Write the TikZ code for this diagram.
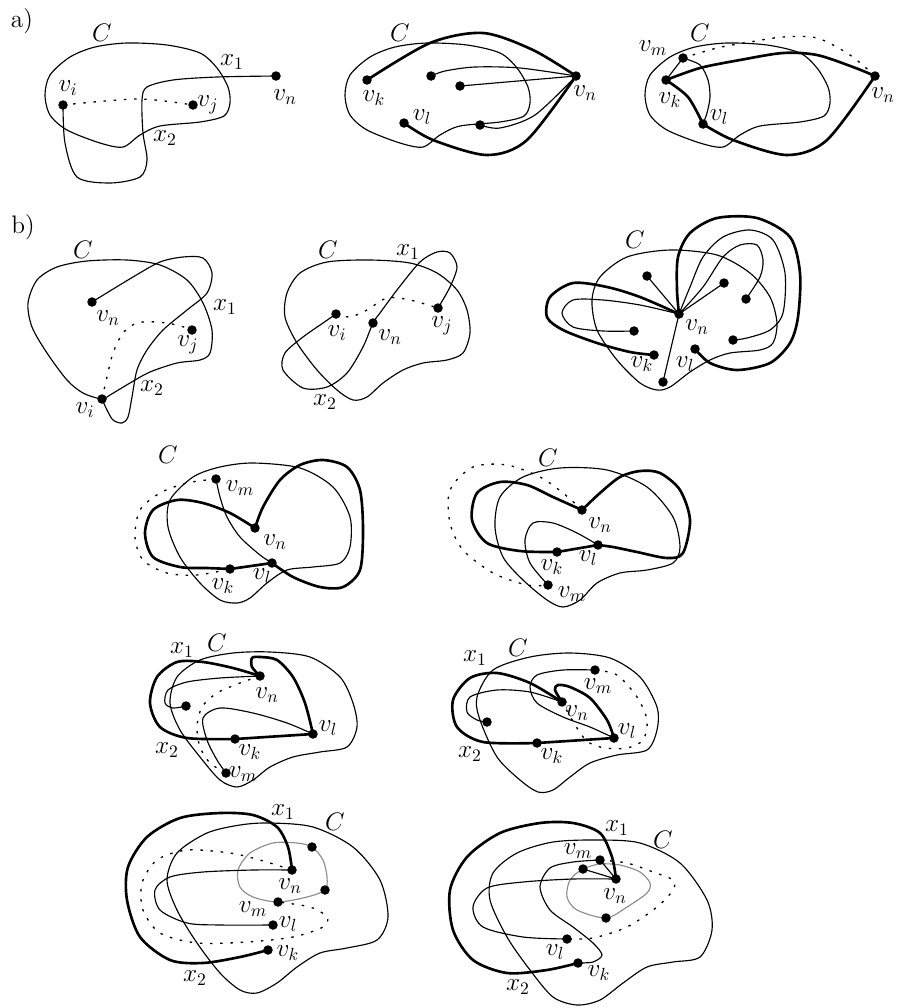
\documentclass[tikz,border=0pt]{standalone}
\usepackage{amsmath,amssymb}
\usepackage{xcolor,tikz}
\usetikzlibrary{positioning}
\definecolor{loopgrey}{HTML}{8C8C8C}
\tikzset{dot/.style={circle,fill=black,inner sep=0pt,minimum size=0.19cm},
  lab/.style={inner sep=0pt,font=\Large},
  edge/.style={line width=0.65pt},
  heavy/.style={line width=1.5pt},
  dots/.style={line width=0.75pt,dash pattern=on 1.4pt off 4.4pt},
  greyloop/.style={line width=0.65pt,draw=loopgrey},
  curveC/.style={line width=0.65pt}}

\begin{document}
\begin{tikzpicture}[x=0.02cm,y=-0.02cm]
\useasboundingbox (0,0) rectangle (899,1008);
\coordinate (a1vi) at (63,105); \coordinate (a1vj) at (193,105); \coordinate (a1vn) at (276,76);
\coordinate (a2vn) at (576,76); \coordinate (a2vk) at (367,80); \coordinate (a2vl) at (404,123);
\coordinate (a2p) at (431,76); \coordinate (a2q) at (460,86); \coordinate (a2r) at (480,125);
\coordinate (a3vn) at (875,76); \coordinate (a3vk) at (666,80); \coordinate (a3vm) at (683,58); \coordinate (a3vl) at (703,124);
\coordinate (b1vn) at (92,302); \coordinate (b1vj) at (192,330); \coordinate (b1vi) at (102,399);
\coordinate (b2vi) at (336,314); \coordinate (b2vn) at (373,323); \coordinate (b2vj) at (438,308);
\coordinate (b3vn) at (679,314); \coordinate (b3vk) at (654,355); \coordinate (b3vl) at (695,349);
\coordinate (b3a) at (647,276); \coordinate (b3b) at (724,283); \coordinate (b3c) at (746,299);
\coordinate (b3d) at (634,331); \coordinate (b3e) at (733,340); \coordinate (b3f) at (663,382);
\coordinate (b4vm) at (216,479); \coordinate (b4vn) at (255,528); \coordinate (b4vk) at (230,569); \coordinate (b4vl) at (272,563);
\coordinate (b5vn) at (582,510); \coordinate (b5vk) at (557,552); \coordinate (b5vl) at (598,545); \coordinate (b5vm) at (548,585);
\coordinate (b6vn) at (260,676); \coordinate (b6vl) at (313,734); \coordinate (b6vk) at (235,739);
\coordinate (b6vm) at (226,773); \coordinate (b6p) at (186,706);
\coordinate (b7vn) at (562,702); \coordinate (b7vm) at (595,670); \coordinate (b7vl) at (614,738);
\coordinate (b7vk) at (537,743); \coordinate (b7p) at (487,722);
\coordinate (b8vn) at (292,870); \coordinate (b8a) at (312,847); \coordinate (b8b) at (325,890);
\coordinate (b8vm) at (278,902); \coordinate (b8vl) at (273,925); \coordinate (b8vk) at (268,950);
\coordinate (b9vn) at (616,879); \coordinate (b9vm) at (600,860); \coordinate (b9q) at (583,869);
\coordinate (b9r) at (606,918); \coordinate (b9vl) at (567,939); \coordinate (b9vk) at (578,963);

\node[lab] (tagA) at (22,21) {a)};
\node[lab] (tagB) at (23,227) {b)};

\foreach \dx in {0,300,600}{
  \draw[curveC,shift={(\dx,0)}] plot[smooth cycle] coordinates {(127,43) (167,45) (200,53) (217,68)
    (228,87) (230,103) (224,116) (200,122) (160,126) (140,135) (123,147) (100,143) (67,130)
    (50,115) (45,95) (50,75) (70,57) (95,47)};
}
\draw[edge] plot[smooth] coordinates {(a1vn) (217,77) (173,80) (147,87) (142,100) (143,133) (147,160)
  (140,177) (110,183) (77,177) (65,143) (a1vi)};
\draw[dots] plot[smooth] coordinates {(a1vi) (138,99) (a1vj)};
\node[lab] (a1tC) at (102,33) {$C$};
\node[lab] (a1ti) at (68,88) {$v_i$};
\node[lab] (a1tj) at (208,105) {$v_j$};
\node[lab] (a1tn) at (285,97) {$v_n$};
\node[lab] (a1t1) at (232,62) {$x_1$};
\node[lab] (a1t2) at (165,138) {$x_2$};

\draw[heavy] plot[smooth] coordinates {(a2vk) (430,43) (483,33) (533,50) (a2vn)};
\draw[heavy] plot[smooth] coordinates {(a2vl) (433,140) (487,155) (527,140) (a2vn)};
\draw[edge] plot[smooth] coordinates {(a2p) (445,71) (475,67) (520,68) (a2vn)};
\draw[edge] (a2q) -- (a2vn);
\draw[edge] plot[smooth] coordinates {(a2r) (500,128) (535,115) (a2vn)};
\node[lab] (a2tC) at (400,33) {$C$};
\node[lab] (a2tk) at (374,98) {$v_k$};
\node[lab] (a2tl) at (422,117) {$v_l$};
\node[lab] (a2tn) at (585,93) {$v_n$};

\draw[heavy] plot[smooth] coordinates {(a3vk) (700,68) (740,60) (783,53) (817,55) (853,67) (a3vn)};
\draw[heavy] plot[smooth] coordinates {(a3vk) (688,97) (a3vl)};
\draw[heavy] plot[smooth] coordinates {(a3vl) (733,140) (787,155) (827,140) (a3vn)};
\draw[edge] (a3vk) -- (a3vm);
\draw[edge] plot[smooth] coordinates {(a3vm) (700,65) (708,80) (710,97) (707,113) (a3vl)};
\draw[dots] plot[smooth] coordinates {(a3vm) (717,48) (750,42) (783,37) (817,38) (850,55) (a3vn)};
\node[lab] (a3tC) at (700,33) {$C$};
\node[lab] (a3tm) at (653,48) {$v_m$};
\node[lab] (a3tk) at (670,100) {$v_k$};
\node[lab] (a3tl) at (719,117) {$v_l$};
\node[lab] (a3tn) at (883,95) {$v_n$};

\draw[curveC] plot[smooth cycle] coordinates {(127,260) (160,265) (187,280) (203,303) (212,330) (210,353)
  (200,360) (177,363) (150,372) (130,383) (110,395) (102,399) (83,393) (67,380) (47,353) (32,327)
  (28,303) (37,280) (57,267) (87,261)};
\draw[edge] plot[smooth] coordinates {(b1vn) (133,277) (160,262) (183,257) (203,258) (212,273) (207,293)
  (187,310) (163,330) (147,350) (137,370) (132,397) (128,417) (122,423) (113,420) (107,410) (b1vi)};
\draw[dots] plot[smooth] coordinates {(b1vi) (107,377) (113,353) (123,333) (137,323) (157,322) (177,325) (b1vj)};
\node[lab] (b1tC) at (83,250) {$C$};
\node[lab] (b1tn) at (108,318) {$v_n$};
\node[lab] (b1tj) at (188,345) {$v_j$};
\node[lab] (b1ti) at (85,410) {$v_i$};
\node[lab] (b1t1) at (225,307) {$x_1$};
\node[lab] (b1t2) at (152,388) {$x_2$};

\draw[curveC] plot[smooth cycle] coordinates {(370,260) (410,263) (437,273) (457,290) (467,310) (470,333)
  (463,353) (447,360) (423,363) (403,370) (383,383) (367,397) (353,400) (337,390) (317,370) (297,343)
  (285,317) (287,293) (300,273) (327,262)};
\draw[edge] plot[smooth] coordinates {(b2vj) (450,287) (457,267) (450,253) (437,252) (420,262) (397,290)
  (380,313) (b2vn) (363,347) (347,373) (327,387) (303,388) (283,370) (285,353) (303,337) (323,323) (b2vi)};
\draw[dots] plot[smooth] coordinates {(b2vi) (350,317) (367,310) (387,298) (410,300) (b2vj)};
\node[lab] (b2tC) at (328,250) {$C$};
\node[lab] (b2t1) at (408,252) {$x_1$};
\node[lab] (b2ti) at (337,333) {$v_i$};
\node[lab] (b2tn) at (390,337) {$v_n$};
\node[lab] (b2tj) at (442,326) {$v_j$};
\node[lab] (b2t2) at (325,402) {$x_2$};

\draw[curveC] plot[smooth cycle] coordinates {(670,250) (717,255) (750,273) (770,297) (777,323) (773,343)
  (760,350) (730,353) (710,360) (690,372) (670,387) (657,390) (640,383) (617,360) (597,330) (592,300)
  (600,277) (627,257)};
\draw[heavy] plot[smooth] coordinates {(b3vn) (677,290) (678,257) (690,233) (717,218) (757,218) (790,237)
  (800,273) (798,317) (790,343) (770,363) (737,370) (710,363) (b3vl)};
\draw[edge] plot[smooth] coordinates {(b3vn) (690,287) (703,257) (723,237) (750,230) (773,240) (785,273)
  (783,313) (770,330) (747,338) (b3e)};
\draw[edge] plot[smooth] coordinates {(b3vn) (703,287) (723,257) (740,245) (757,245) (763,260) (760,277) (b3c)};
\draw[heavy] plot[smooth] coordinates {(b3vn) (640,297) (607,287) (573,283) (550,297) (547,317) (563,330)
  (597,343) (630,352) (b3vk)};
\draw[edge] plot[smooth] coordinates {(b3vn) (640,305) (603,300) (573,300) (562,313) (573,327) (603,331) (b3d)};
\draw[edge] (b3vn) -- (b3a);
\draw[edge] (b3vn) -- (b3b);
\draw[edge] (b3vn) -- (b3f);
\node[lab] (b3tC) at (635,240) {$C$};
\node[lab] (b3tn) at (697,327) {$v_n$};
\node[lab] (b3tk) at (642,364) {$v_k$};
\node[lab] (b3tl) at (685,364) {$v_l$};

\draw[curveC] plot[smooth cycle] coordinates {(253,463) (300,468) (333,487) (350,517) (350,547) (340,563)
  (313,567) (287,570) (267,583) (250,598) (237,603) (220,600) (200,583) (180,557) (168,527) (170,500)
  (193,477) (220,467)};
\draw[heavy] plot[smooth] coordinates {(b4vn) (263,507) (280,480) (300,465) (323,460) (347,467) (360,490)
  (363,530) (360,570) (343,587) (320,587) (293,577) (b4vl)};
\draw[heavy] plot[smooth] coordinates {(b4vn) (230,513) (203,503) (177,500) (153,510) (145,533) (153,557)
  (180,567) (207,568) (b4vk)};
\draw[heavy] (b4vk) -- (b4vl);
\draw[edge] plot[smooth] coordinates {(b4vm) (220,497) (227,517) (240,537) (260,555) (b4vl)};
\draw[dots] plot[smooth] coordinates {(b4vm) (187,483) (160,493) (140,510) (135,537) (143,560) (167,573)
  (197,575) (b4vk)};
\node[lab] (b4tC) at (168,455) {$C$};
\node[lab] (b4tm) at (240,488) {$v_m$};
\node[lab] (b4tn) at (275,542) {$v_n$};
\node[lab] (b4tk) at (223,586) {$v_k$};
\node[lab] (b4tl) at (262,576) {$v_l$};

\draw[curveC] plot[smooth cycle] coordinates {(560,468) (607,470) (647,487) (673,517) (680,547) (673,563)
  (647,570) (620,573) (597,583) (580,600) (563,607) (547,600) (523,580) (503,557) (495,527) (500,497)
  (523,477)};
\draw[heavy] plot[smooth] coordinates {(b5vn) (600,493) (620,477) (640,471) (660,473) (680,490) (690,520)
  (683,553) (667,558) (637,552) (613,547) (b5vl)};
\draw[heavy] plot[smooth] coordinates {(b5vn) (553,497) (527,485) (500,482) (477,493) (472,520) (487,543)
  (520,551) (b5vk)};
\draw[heavy] (b5vk) -- (b5vl);
\draw[edge] plot[smooth] coordinates {(b5vl) (577,533) (553,523) (533,523) (525,540) (530,563) (b5vm)};
\draw[dots] plot[smooth] coordinates {(b5vn) (563,493) (540,477) (507,465) (473,467) (450,490) (450,523)
  (463,550) (493,573) (527,585) (b5vm)};
\node[lab] (b5tC) at (548,458) {$C$};
\node[lab] (b5tn) at (600,525) {$v_n$};
\node[lab] (b5tk) at (552,567) {$v_k$};
\node[lab] (b5tl) at (588,558) {$v_l$};
\node[lab] (b5tm) at (572,594) {$v_m$};

\draw[curveC] plot[smooth cycle] coordinates {(270,652) (310,657) (340,677) (353,703) (357,727) (347,747)
  (320,752) (293,757) (270,767) (253,780) (237,787) (220,780) (200,757) (180,730) (170,703) (177,677)
  (200,660) (233,653)};
\draw[heavy] plot[smooth] coordinates {(b6vn) (233,668) (203,662) (177,662) (157,677) (150,703) (160,727)
  (187,738) (b6vk)};
\draw[heavy] plot[smooth] coordinates {(b6vn) (252,667) (252,658) (260,657) (277,660) (293,677) (305,703) (b6vl)};
\draw[heavy] (b6vk) -- (b6vl);
\draw[edge] plot[smooth] coordinates {(b6vn) (220,678) (187,682) (168,690) (165,703) (173,708) (b6p)};
\draw[edge] plot[smooth] coordinates {(b6vl) (287,723) (253,713) (220,708) (203,718) (207,740) (217,760) (b6vm)};
\draw[dots] plot[smooth] coordinates {(b6vn) (240,683) (217,693) (202,707) (197,727) (200,747) (210,763) (b6vm)};
\node[lab] (b6tC) at (217,643) {$C$};
\node[lab] (b6t1) at (182,650) {$x_1$};
\node[lab] (b6t2) at (167,750) {$x_2$};
\node[lab] (b6tn) at (267,695) {$v_n$};
\node[lab] (b6tl) at (328,728) {$v_l$};
\node[lab] (b6tk) at (250,752) {$v_k$};
\node[lab] (b6tm) at (243,774) {$v_m$};

\draw[curveC] plot[smooth cycle] coordinates {(570,653) (610,658) (640,677) (657,707) (657,730) (647,750)
  (617,755) (590,763) (570,777) (553,790) (538,792) (520,780) (497,757) (480,720) (477,697) (493,670)
  (530,657)};
\draw[heavy] plot[smooth] coordinates {(b7vn) (530,683) (497,673) (470,678) (453,700) (457,727) (483,742) (b7vk)};
\draw[heavy] plot[smooth] coordinates {(b7vn) (555,690) (558,685) (570,687) (590,698) (607,720) (b7vl)};
\draw[heavy] (b7vk) -- (b7vl);
\draw[edge] plot[smooth] coordinates {(b7vn) (530,692) (497,690) (470,697) (467,712) (477,720) (b7p)};
\draw[edge] plot[smooth] coordinates {(b7vm) (563,670) (537,675) (530,687) (537,703) (563,717) (590,727) (b7vl)};
\draw[dots] plot[smooth] coordinates {(b7vm) (617,675) (637,697) (647,720) (643,740) (627,748) (605,748)
  (588,742) (577,728) (b7vn)};
\node[lab] (b7tC) at (518,648) {$C$};
\node[lab] (b7t1) at (475,658) {$x_1$};
\node[lab] (b7t2) at (470,754) {$x_2$};
\node[lab] (b7tn) at (577,713) {$v_n$};
\node[lab] (b7tm) at (598,686) {$v_m$};
\node[lab] (b7tl) at (627,731) {$v_l$};
\node[lab] (b7tk) at (552,756) {$v_k$};

\draw[curveC] plot[smooth cycle] coordinates {(270,823) (313,827) (353,847) (380,880) (388,917) (377,940)
  (347,948) (320,953) (297,967) (277,983) (257,993) (240,990) (220,973) (197,943) (177,910) (167,880)
  (177,853) (207,833) (240,825)};
\draw[greyloop] plot[smooth cycle] coordinates {(b8a) (323,860) (327,877) (b8b) (307,897) (b8vm) (253,897)
  (240,887) (238,870) (250,853) (273,843) (297,843)};
\draw[heavy] plot[smooth] coordinates {(b8vn) (288,847) (277,827) (253,815) (220,813) (180,818) (147,837)
  (128,867) (127,900) (140,937) (170,960) (203,963) (240,957) (b8vk)};
\draw[edge] plot[smooth] coordinates {(b8vn) (253,870) (203,872) (170,877) (155,890) (160,910) (187,923)
  (220,925) (b8vl)};
\draw[dots] plot[smooth] coordinates {(b8vn) (260,860) (230,853) (187,850) (157,860) (142,883) (143,910)
  (160,933) (197,943) (247,942) (293,937) (323,927) (327,917) (310,907) (b8vm)};
\node[lab] (b8tC) at (335,822) {$C$};
\node[lab] (b8t1) at (283,812) {$x_1$};
\node[lab] (b8t2) at (195,978) {$x_2$};
\node[lab] (b8tn) at (290,886) {$v_n$};
\node[lab] (b8tm) at (253,909) {$v_m$};
\node[lab] (b8tl) at (288,924) {$v_l$};
\node[lab] (b8tk) at (288,953) {$v_k$};

\draw[curveC] plot[smooth cycle] coordinates {(597,840) (640,843) (680,863) (707,900) (712,930) (700,957)
  (673,962) (647,967) (623,983) (600,1000) (577,1005) (553,997) (530,970) (507,937) (490,900) (493,873)
  (517,853) (553,842)};
\draw[greyloop] plot[smooth cycle] coordinates {(b9q) (570,880) (567,897) (577,910) (b9r) (627,907)
  (647,893) (650,883) (640,872) (620,865) (600,864)};
\draw[heavy] plot[smooth] coordinates {(b9vn) (612,857) (600,833) (573,823) (540,823) (500,833) (467,857)
  (450,890) (453,930) (473,960) (507,973) (547,970) (b9vk)};
\draw[edge] plot[smooth] coordinates {(b9vn) (573,879) (523,882) (487,888) (473,907) (483,927) (523,937) (b9vl)};
\draw[edge] plot[smooth] coordinates {(b9vm) (573,862) (550,868) (540,887) (550,910) (573,927) (593,943)
  (602,955) (593,962) (b9vk)};
\draw[edge] (b9vn) -- (b9vm);
\draw[edge] (b9vn) -- (b9q);
\draw[dots] plot[smooth] coordinates {(b9vm) (627,863) (653,872) (673,880) (673,890) (657,907) (627,927)
  (593,938) (b9vl)};
\node[lab] (b9tC) at (663,840) {$C$};
\node[lab] (b9t1) at (617,828) {$x_1$};
\node[lab] (b9t2) at (518,987) {$x_2$};
\node[lab] (b9tm) at (578,851) {$v_m$};
\node[lab] (b9tn) at (615,896) {$v_n$};
\node[lab] (b9tl) at (555,952) {$v_l$};
\node[lab] (b9tk) at (599,973) {$v_k$};

\foreach \v in {a1vi,a1vj,a1vn,a2vn,a2vk,a2vl,a2p,a2q,a2r,a3vn,a3vk,a3vm,a3vl,
  b1vn,b1vj,b1vi,b2vi,b2vn,b2vj,b3vn,b3vk,b3vl,b3a,b3b,b3c,b3d,b3e,b3f,
  b4vm,b4vn,b4vk,b4vl,b5vn,b5vk,b5vl,b5vm,b6vn,b6vl,b6vk,b6vm,b6p,
  b7vn,b7vm,b7vl,b7vk,b7p,b8vn,b8a,b8b,b8vm,b8vl,b8vk,b9vn,b9vm,b9q,b9r,b9vl,b9vk}
  {\node[dot] (dot-\v) at (\v) {};}
\end{tikzpicture}
\end{document}
